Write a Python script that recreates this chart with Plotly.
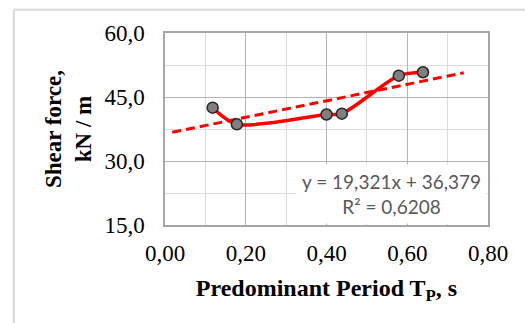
import plotly.graph_objects as go

# Measured shear force against predominant period
period = [0.118, 0.178, 0.400, 0.438, 0.579, 0.639]
shear = [42.5, 38.6, 40.9, 41.1, 50.0, 50.8]

# Linear trend (least squares) and its fit statistic
slope = 19.321
intercept = 36.379
r_squared = 0.6208
trend_x = [0.018, 0.74]
trend_y = [slope * x + intercept for x in trend_x]

x_ticks = [0.0, 0.2, 0.4, 0.6, 0.8]
y_ticks = [15.0, 30.0, 45.0, 60.0]

serif = "Liberation Serif"

fig = go.Figure()

fig.add_trace(go.Scatter(
    x=trend_x, y=trend_y, mode="lines",
    line=dict(color="#ff0000", width=3, dash="9px,5px"),
    hoverinfo="skip", showlegend=False,
))

fig.add_trace(go.Scatter(
    x=period, y=shear, mode="lines+markers",
    line=dict(color="#ff0000", width=3.5, shape="spline", smoothing=0.8),
    marker=dict(size=11, color="#7f7f7f", line=dict(color="#262626", width=1.5)),
    showlegend=False,
))

def fmt(v, nd):
    return f"{v:.{nd}f}".replace(".", ",")

fig.add_annotation(
    x=0.562, y=22.3, xref="x", yref="y",
    text=f"y = {fmt(slope, 3)}x + {fmt(intercept, 3)}<br>R² = {fmt(r_squared, 4)}",
    showarrow=False, align="center",
    font=dict(family="Lato", size=19, color="#595959"),
    bgcolor="#ffffff", borderpad=5,
)

# Chart-area frame
frame = dict(color="#d9d9d9", width=2)
fig.add_shape(type="line", xref="paper", yref="paper",
              x0=-0.468, x1=-0.468, y0=1.121, y1=-0.7, line=frame)
fig.add_shape(type="line", xref="paper", yref="paper",
              x0=-0.468, x1=1.3, y0=1.121, y1=1.121, line=frame)

fig.update_layout(
    width=525, height=323,
    margin=dict(l=165, r=37, t=33, b=98),
    paper_bgcolor="#ffffff", plot_bgcolor="#ffffff",
    separators=", ",
    xaxis=dict(
        range=[0, 0.8], tickvals=x_ticks, tickformat=".2f",
        showgrid=True, gridcolor="#b4b4b4", gridwidth=1.3,
        minor=dict(dtick=0.1, showgrid=True, gridcolor="#dcdcdc", gridwidth=1.2),
        showline=True, mirror=True, linecolor="#a6a6a6", linewidth=1.5,
        zeroline=False, ticks="", ticklabelstandoff=7,
        tickfont=dict(family=serif, size=23, color="#000000"),
        title=dict(text="<b>Predominant Period T<sub>P</sub>, s</b>",
                   font=dict(family=serif, size=24, color="#000000"), standoff=14),
    ),
    yaxis=dict(
        range=[15, 60], tickvals=y_ticks, tickformat=".1f",
        showgrid=True, gridcolor="#b4b4b4", gridwidth=1.3,
        minor=dict(dtick=7.5, showgrid=True, gridcolor="#dcdcdc", gridwidth=1.2),
        showline=True, mirror=True, linecolor="#a6a6a6", linewidth=1.5,
        zeroline=False, ticks="", ticklabelstandoff=14,
        tickfont=dict(family=serif, size=23, color="#000000"),
        title=dict(text="<b>Shear force,<br>kN / m</b>",
                   font=dict(family=serif, size=23, color="#000000"), standoff=6),
    ),
)

fig.write_html("out.html")
